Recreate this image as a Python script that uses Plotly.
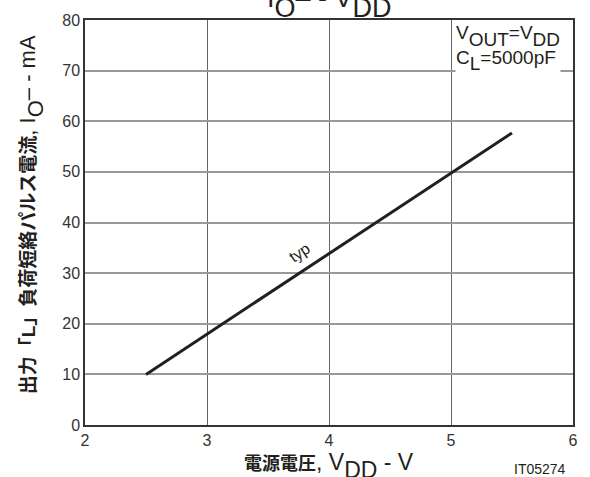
import plotly.graph_objects as go

# I_O- vs V_DD (typ)
vdd_v  = [2.5, 5.5]
io_ma  = [10.0, 57.7]

x_ticks = [2, 3, 4, 5, 6]
y_ticks = [0, 10, 20, 30, 40, 50, 60, 70, 80]

FONT = "Liberation Sans, Arial, Noto Sans CJK JP, sans-serif"
INK  = "#231f20"
NB   = "\u00a0"


def sub(text, size):
    """Datasheet-style subscript: same size as the body text, just dropped."""
    return f"<sub><sub><span style='font-size:{size}px'>{text}</span></sub></sub>"


fig = go.Figure()
fig.add_trace(go.Scatter(
    x=vdd_v, y=io_ma, mode="lines",
    line=dict(color=INK, width=3), showlegend=False, hoverinfo="skip",
))

axis_common = dict(
    showline=True, linecolor="#333333", linewidth=1.5, mirror=True,
    showgrid=True, ticks="", zeroline=False,
    tickfont=dict(family=FONT, size=16, color="#333333"),
)
fig.update_xaxes(range=[2, 6], tickvals=x_ticks, gridcolor="#666666", gridwidth=1.2, **axis_common)
fig.update_yaxes(range=[0, 80], tickvals=y_ticks, gridcolor="#999999", gridwidth=1.5, **axis_common)

fig.add_annotation(
    x=3.76, y=34, xref="x", yref="y", text="typ", showarrow=False, textangle=-34,
    font=dict(family=FONT, size=16, color=INK),
)
fig.add_annotation(
    x=5.03, y=79.8, xref="x", yref="y", xanchor="left", yanchor="top", align="left",
    text=f"V{sub('OUT', 19)}=V{sub('DD', 19)}<br>C{sub('L', 19)}=5000pF", showarrow=False,
    bgcolor="white", borderpad=0,
    font=dict(family=FONT, size=19, color=INK),
)
# title, cut off at the page top as in the scan
fig.add_annotation(
    x=0.5, y=1.0, xref="paper", yref="paper", yanchor="bottom", yshift=-5,
    text=f"I{sub('O', 27)}– - V{sub('DD', 27)}", showarrow=False,
    font=dict(family=FONT, size=27, color=INK),
)
fig.add_annotation(
    x=-0.13, y=0.518, xref="paper", yref="paper", textangle=-90, showarrow=False, xshift=-9,
    text=f"<b><span style='font-size:19px'>出力「L」負荷短絡パルス電流</span></b>, I{sub('O', 22)}–{NB}-{NB}mA",
    font=dict(family=FONT, size=22, color=INK),
)
fig.add_annotation(
    x=0.5, y=-0.055, xref="paper", yref="paper", yanchor="top", showarrow=False,
    text=f"<b><span style='font-size:18px'>電源電圧</span></b>, V{sub('DD', 23)}{NB}-{NB}V",
    font=dict(family=FONT, size=23, color=INK),
)
fig.add_annotation(
    x=0.99, y=-0.085, xref="paper", yref="paper", xanchor="right", yanchor="top", showarrow=False,
    text="IT05274", font=dict(family=FONT, size=14, color=INK),
)

fig.update_layout(
    width=590, height=477,
    margin=dict(l=85, r=13, t=18, b=52),
    plot_bgcolor="white", paper_bgcolor="white",
)
fig.write_html("out.html", config={"displayModeBar": False})

# drop the browser's default body margin so the figure sits at the page corner
with open("out.html", encoding="utf-8") as f:
    page = f.read()
page = page.replace("<body>", '<body style="margin:0">', 1)
with open("out.html", "w", encoding="utf-8") as f:
    f.write(page)
